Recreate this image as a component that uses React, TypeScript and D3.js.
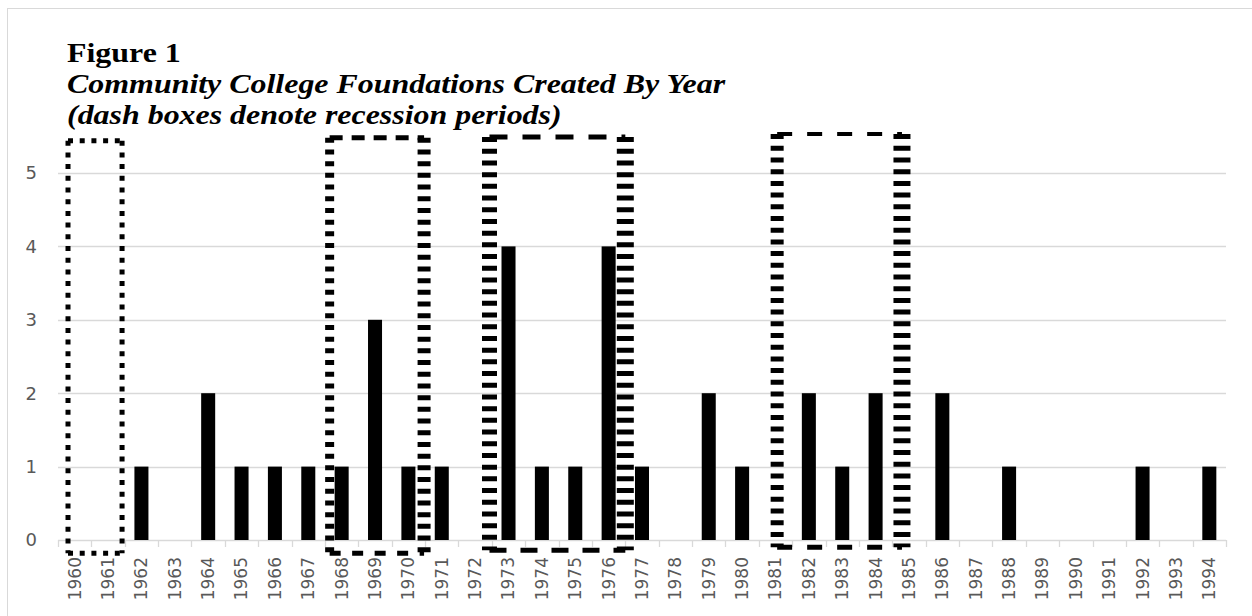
import React from "react";
import * as d3 from "d3";

const years = d3.range(1960, 1995).map(String);
const counts = [0, 0, 1, 0, 2, 1, 1, 1, 1, 3, 1, 1, 0, 4, 1, 1, 4, 1, 0, 2, 1, 0, 2, 1, 2, 0, 2, 0, 1, 0, 0, 0, 1, 0, 1];
const yTicks = [0, 1, 2, 3, 4, 5];
const titleLines = [
  "Figure 1",
  "Community College Foundations Created By Year",
  "(dash boxes denote recession periods)",
];

// recession boxes, in year / value units
const recessions = [
  { start: 1960.3, end: 1961.92, top: 5.44, bottom: -0.18 },
  { start: 1968.14, end: 1970.97, top: 5.48, bottom: -0.18 },
  { start: 1972.93, end: 1977.0, top: 5.49, bottom: -0.14 },
  { start: 1981.55, end: 1985.29, top: 5.53, bottom: -0.1 },
];

// the boxes were stretched by hand, so each side has its own weight
const boxSides = [
  { left: [5, "5 6.7"], right: [5, "5 6.7"], top: [5, "5 6.7"], bottom: [5, "5 6.7"] },
  { left: [9, "5 6.7"], right: [13, "5 6.7"], top: [5, "13 9"], bottom: [5, "11 11.5"] },
  { left: [15, "5 6.7"], right: [17, "5 6.7"], top: [5, "18 15"], bottom: [5, "17 14"] },
  { left: [13, "5 6.7"], right: [17, "5 6.7"], top: [4, "15 15"], bottom: [5, "15 15"] },
];

const width = 1252;
const height = 616;
const margin = { top: 173, right: 26, bottom: 76, left: 58 };

const App = () => {
  const x = d3
    .scaleBand()
    .domain(years)
    .range([margin.left, width - margin.right])
    .paddingInner(0.58)
    .paddingOuter(0.29);

  // continuous year scale for the boxes and tick marks
  const xYear = d3
    .scaleLinear()
    .domain([1960, 1995])
    .range([margin.left, width - margin.right]);

  const y = d3
    .scaleLinear()
    .domain([0, 5])
    .range([height - margin.bottom, margin.top]);

  const axisFont = "'DejaVu Sans', sans-serif";

  return (
    <svg
      width={width}
      height={height}
      style={{ position: "absolute", left: 0, top: 0, background: "#fff" }}
    >
      <rect x={7.5} y={8.5} width={1300} height={700} fill="#fff" stroke="#d9d9d9" />

      {yTicks.map((t) => (
        <g key={t}>
          <line
            x1={margin.left}
            x2={width - margin.right}
            y1={Math.round(y(t)) + 0.5}
            y2={Math.round(y(t)) + 0.5}
            stroke="#d9d9d9"
            strokeWidth={1.3}
          />
          <text
            x={37}
            y={y(t)}
            dy="0.35em"
            textAnchor="end"
            fontFamily={axisFont}
            fontSize={18}
            fill="#595959"
          >
            {t}
          </text>
        </g>
      ))}

      {d3.range(1960, 1996).map((yr) => (
        <line
          key={yr}
          x1={Math.round(xYear(yr)) + 0.5}
          x2={Math.round(xYear(yr)) + 0.5}
          y1={y(0)}
          y2={y(0) + 7}
          stroke="#d9d9d9"
          strokeWidth={1.3}
        />
      ))}

      {years.map((yr, i) => (
        <rect
          key={yr}
          x={x(yr)}
          y={y(counts[i])}
          width={x.bandwidth()}
          height={y(0) - y(counts[i])}
          fill="#000"
        />
      ))}

      {years.map((yr) => {
        const cx = x(yr) + x.bandwidth() / 2;
        const ty = y(0) + 17;
        return (
          <text
            key={yr}
            transform={`translate(${cx},${ty}) rotate(-90)`}
            dy="0.35em"
            textAnchor="end"
            fontFamily={axisFont}
            fontSize={17}
            fill="#595959"
          >
            {yr}
          </text>
        );
      })}

      {recessions.map((r, i) => {
        const s = boxSides[i];
        const x0 = xYear(r.start);
        const x1 = xYear(r.end);
        const y0 = y(r.top);
        const y1 = y(r.bottom);
        return (
          <g key={i} fill="none" stroke="#000">
            <line x1={x0} x2={x1} y1={y0} y2={y0} strokeWidth={s.top[0]} strokeDasharray={s.top[1]} />
            <line x1={x0} x2={x1} y1={y1} y2={y1} strokeWidth={s.bottom[0]} strokeDasharray={s.bottom[1]} />
            <line x1={x0} x2={x0} y1={y0} y2={y1} strokeWidth={s.left[0]} strokeDasharray={s.left[1]} />
            <line x1={x1} x2={x1} y1={y0} y2={y1} strokeWidth={s.right[0]} strokeDasharray={s.right[1]} />
          </g>
        );
      })}

      <g transform="translate(67,0) scale(1.14,1)">
        {titleLines.map((line, i) => (
          <text
            key={i}
            x={0}
            y={62 + i * 31}
            fontFamily="'Liberation Serif', 'Times New Roman', serif"
            fontWeight="bold"
            fontStyle={i === 0 ? "normal" : "italic"}
            fontSize={28}
            fill="#000"
          >
            {line}
          </text>
        ))}
      </g>
    </svg>
  );
};

export default App;
